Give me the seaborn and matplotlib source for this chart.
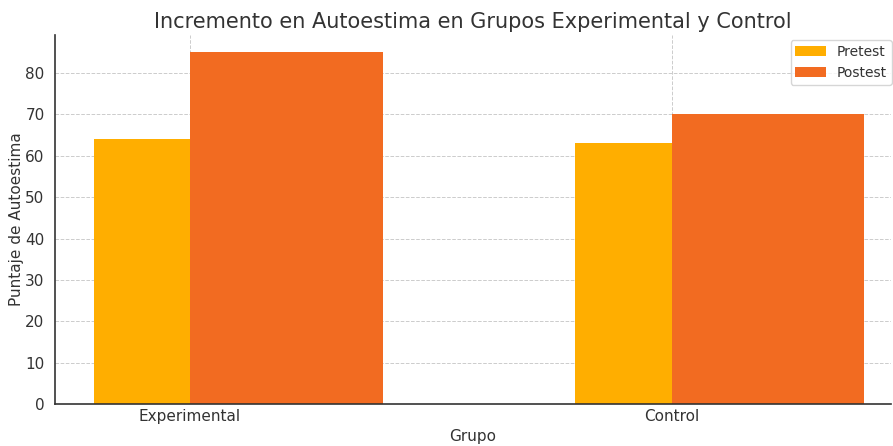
import pandas as pd
import seaborn as sns
import matplotlib.pyplot as plt

grupos = ['Experimental', 'Control']
pretest = [64, 63]
postest = [85, 70]

df = pd.DataFrame({
    'Grupo': grupos * 2,
    'Fase': ['Pretest'] * 2 + ['Postest'] * 2,
    'Puntaje': pretest + postest,
})

sns.set_style('whitegrid')
plt.rcParams['font.family'] = ['DejaVu Sans']

fig = plt.figure(figsize=(8.93, 4.46), dpi=100)
ax = fig.add_axes([0.0616, 0.094, 0.936, 0.828])

sns.barplot(data=df, x='Grupo', y='Puntaje', hue='Fase', ax=ax,
            palette={'Pretest': '#FFAE00', 'Postest': '#F26B21'},
            width=0.8, saturation=1, errorbar=None, edgecolor='none')

# pretest bar is half width, sitting left of the tick; postest to the right
for i, p in enumerate(ax.patches[:len(grupos)]):
    p.set_x(i - 0.2)
    p.set_width(0.2)
for i, p in enumerate(ax.patches[len(grupos):2 * len(grupos)]):
    p.set_x(i)
    p.set_width(0.4)

ax.set_xlim(-0.28, 1.455)
ax.set_ylim(0, 89.25)
ax.set_axisbelow(True)
ax.grid(True, color='#cccccc', linestyle='--', linewidth=0.7)
for s in ['top', 'right']:
    ax.spines[s].set_visible(False)
for s in ['left', 'bottom']:
    ax.spines[s].set_color('#333333')
    ax.spines[s].set_linewidth(1.2)
ax.tick_params(axis='both', colors='#333333', labelsize=11, length=4)
ax.tick_params(axis='x', direction='in')

ax.set_title('Incremento en Autoestima en Grupos Experimental y Control',
             fontsize=15, color='#333333', pad=5)
ax.set_xlabel('Grupo', fontsize=11, color='#333333')
ax.set_ylabel('Puntaje de Autoestima', fontsize=11, color='#333333', labelpad=1)

leg = ax.legend(loc='upper right', bbox_to_anchor=(0.999, 0.91),
                bbox_transform=fig.transFigure, fontsize=10,
                frameon=True, title=None, handlelength=2.2, borderaxespad=0,
                borderpad=0.35)
for t in leg.get_texts():
    t.set_color('#333333')

fig.savefig('out.png', dpi=100)
